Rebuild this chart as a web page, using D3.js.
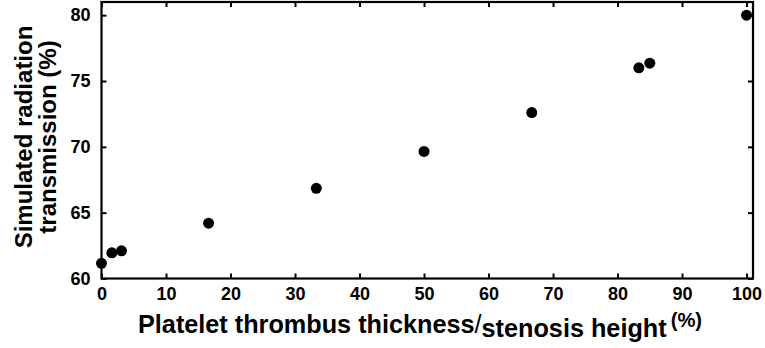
<!DOCTYPE html>
<html>
<head>
<meta charset="utf-8">
<script src="https://cdn.jsdelivr.net/npm/d3@7"></script>
<style>
  body { margin: 0; background: #fff; }
  svg { display: block; font-family: "Liberation Sans", Arial, sans-serif; font-weight: bold; }
</style>
</head>
<body>
<div id="chart"></div>
<script>
// thickness / stenosis height (%)
const thickness = [0, 1.6, 3.1, 16.6, 33.3, 50, 66.7, 83.3, 85, 100];
// simulated radiation transmission (%)
const transmission = [61.15, 61.95, 62.1, 64.2, 66.85, 69.65, 72.6, 76.0, 76.35, 80.0];
const xTicks = [0, 10, 20, 30, 40, 50, 60, 70, 80, 90, 100];
const yTicks = [60, 65, 70, 75, 80];

const width = 765, height = 348;
const margin = { top: 2, right: 12, bottom: 70, left: 101.5 };

const svg = d3.select("#chart").append("svg")
    .attr("width", width)
    .attr("height", height);

const xScale = d3.scaleLinear().domain([0, 101]).range([margin.left, width - margin.right]);
const yScale = d3.scaleLinear().domain([60, 81]).range([height - margin.bottom + 0.5, margin.top]);

const x0 = xScale.range()[0], x1 = xScale.range()[1];
const y0 = yScale.range()[0], y1 = yScale.range()[1];

// ticks, inward on all four sides
const bottomAxis = d3.axisBottom(xScale).tickValues(xTicks).tickSizeInner(-5).tickSizeOuter(0).tickPadding(9);
const topAxis = d3.axisTop(xScale).tickValues(xTicks).tickSizeInner(-5).tickSizeOuter(0).tickFormat("");
const leftAxis = d3.axisLeft(yScale).tickValues(yTicks).tickSizeInner(-5).tickSizeOuter(0).tickPadding(11);
const rightAxis = d3.axisRight(yScale).tickValues(yTicks).tickSizeInner(-5).tickSizeOuter(0).tickFormat("");

svg.append("g").attr("class", "axis").attr("transform", "translate(0," + y0 + ")").call(bottomAxis);
svg.append("g").attr("class", "axis").attr("transform", "translate(0," + y1 + ")").call(topAxis);
svg.append("g").attr("class", "axis").attr("transform", "translate(" + x0 + ",0)").call(leftAxis);
svg.append("g").attr("class", "axis").attr("transform", "translate(" + x1 + ",0)").call(rightAxis);

svg.selectAll(".axis")
    .attr("font-family", "'Liberation Sans', Arial, sans-serif")
    .attr("font-size", 18)
    .attr("font-weight", "bold");
svg.selectAll(".domain").remove();
svg.selectAll(".tick line").attr("stroke", "#000").attr("stroke-width", 2);
svg.selectAll(".tick text").attr("fill", "#000");

// frame
svg.append("rect")
    .attr("x", x0).attr("y", y1)
    .attr("width", x1 - x0).attr("height", y0 - y1)
    .attr("fill", "none")
    .attr("stroke", "#000")
    .attr("stroke-width", 2.2);

// points
svg.append("g").selectAll("circle")
    .data(thickness.map((d, i) => [d, transmission[i]]))
    .join("circle")
    .attr("cx", d => xScale(d[0]))
    .attr("cy", d => yScale(d[1]))
    .attr("r", 5.5)
    .attr("fill", "#000");

// y title
const yTitle = svg.append("text")
    .attr("transform", "translate(32,137) rotate(-90)")
    .attr("text-anchor", "middle")
    .style("font-size", "24px");
yTitle.append("tspan").attr("x", 0).attr("dy", 0).text("Simulated radiation");
yTitle.append("tspan").attr("x", 0).attr("dy", 24).text("transmission (%)");

// x title
const xTitle = svg.append("text")
    .attr("transform", "translate(138,333) scale(1.01,1)")
    .style("font-size", "25px");
xTitle.append("tspan").text("Platelet thrombus thickness");
xTitle.append("tspan").style("font-weight", "normal").text("/");
xTitle.append("tspan").attr("dy", 4).text("stenosis height");
xTitle.append("tspan").attr("dy", -10).attr("dx", 4).style("font-size", "20px").text("(%)");
</script>
</body>
</html>
